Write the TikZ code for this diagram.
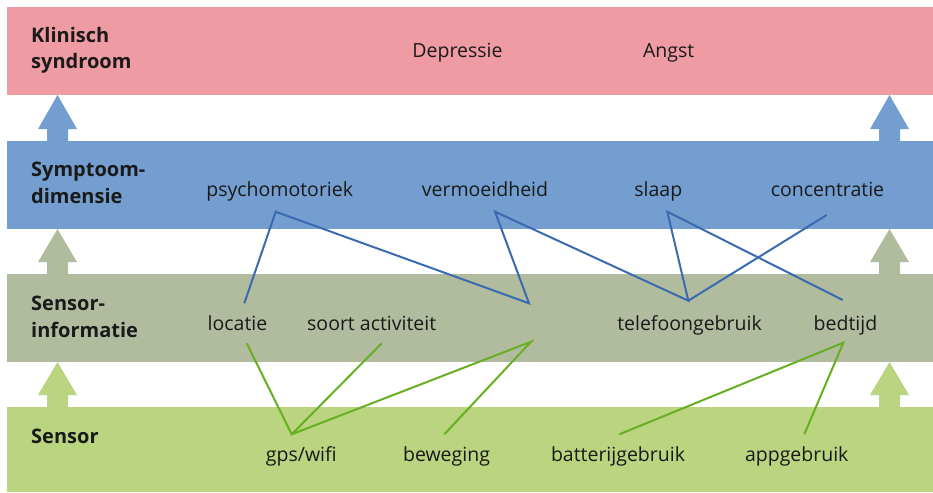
\documentclass[tikz,border=0pt]{standalone}
\usepackage{fontspec}
\setmainfont{Open Sans}
\usetikzlibrary{calc}
\definecolor{pinkband}{HTML}{EF9BA3}
\definecolor{blueband}{HTML}{739ECF}
\definecolor{greyband}{HTML}{B1BC9F}
\definecolor{greenband}{HTML}{BAD480}
\definecolor{blueline}{HTML}{3A6AB0}
\definecolor{greenline}{HTML}{67AF22}
\definecolor{txt}{HTML}{1A1A1A}
\begin{document}
\begin{tikzpicture}[x=1pt,y=-1pt,
  band/.style={draw=none,inner sep=0pt,outer sep=0pt,anchor=north west,minimum width=926pt},
  lbl/.style={anchor=base,inner sep=0pt,font=\fontsize{19.5}{23}\selectfont,text=txt},
  head/.style={anchor=base west,inner sep=0pt,font=\fontsize{20}{24}\selectfont\bfseries,text=txt},
  bl/.style={draw=blueline,line width=2pt},
  gl/.style={draw=greenline,line width=2pt}]
\useasboundingbox (0,0) rectangle (933,492);
% bands
\node[band,fill=pinkband,minimum height=88pt] (b1) at (7,7) {};
\node[band,fill=blueband,minimum height=88pt] (b2) at (7,141) {};
\node[band,fill=greyband,minimum height=88pt] (b3) at (7,274) {};
\node[band,fill=greenband,minimum height=85pt] (b4) at (7,407) {};
% arrows (left and right)
\foreach \cx in {57.5,889.5}{
  \fill[blueband] (\cx,95) -- (\cx+19.5,129) -- (\cx+10.5,129) -- (\cx+10.5,141.5) -- (\cx-10.5,141.5) -- (\cx-10.5,129) -- (\cx-19.5,129) -- cycle;
  \fill[greyband] (\cx,229) -- (\cx+19.5,262) -- (\cx+10.5,262) -- (\cx+10.5,274.5) -- (\cx-10.5,274.5) -- (\cx-10.5,262) -- (\cx-19.5,262) -- cycle;
  \fill[greenband] (\cx,362) -- (\cx+19.5,395) -- (\cx+10.5,395) -- (\cx+10.5,407.5) -- (\cx-10.5,407.5) -- (\cx-10.5,395) -- (\cx-19.5,395) -- cycle;
}
% level headings
\node[head] (h1a) at (31,42.3) {Klinisch};
\node[head] (h1b) at (31,69) {syndroom};
\node[head] (h2a) at (31,176.5) {Symptoom-};
\node[head] (h2b) at (31,203) {dimensie};
\node[head] (h3a) at (31,310.3) {Sensor-};
\node[head] (h3b) at (31,337) {informatie};
\node[head] (h4) at (31,443.3) {Sensor};
% syndromes
\node[lbl] (dep) at (457.5,57.7) {Depressie};
\node[lbl] (ang) at (668.7,57.7) {Angst};
% symptom dimensions
\node[lbl] (psy) at (279.7,196.7) {psychomotoriek};
\node[lbl] (verm) at (485,196.7) {vermoeidheid};
\node[lbl] (slaap) at (658.3,196.7) {slaap};
\node[lbl] (conc) at (827.5,196.7) {concentratie};
% sensor information
\node[lbl] (loc) at (237.5,330.7) {locatie};
\node[lbl] (sa) at (371.7,330.7) {soort activiteit};
\node[lbl] (tel) at (689.5,330.7) {telefoongebruik};
\node[lbl] (bed) at (845.5,330.7) {bedtijd};
% sensors
\node[lbl] (gps) at (301.3,461.7) {gps/wifi};
\node[lbl] (bew) at (446.5,461.7) {beweging};
\node[lbl] (bat) at (618,461.7) {batterijgebruik};
\node[lbl] (app) at (796.7,461.7) {appgebruik};
% connection points
\coordinate (psy-b) at ($(psy.base)+(-4,15)$);
\coordinate (verm-b) at ($(verm.base)+(10,15)$);
\coordinate (slaap-b) at ($(slaap.base)+(9,15)$);
\coordinate (conc-b) at ($(conc.base)+(-0.8,18.3)$);
\coordinate (loc-t) at ($(loc.base)+(6.8,-27.4)$);
\coordinate (loc-b) at ($(loc.base)+(9.2,12.6)$);
\coordinate (sa-b) at ($(sa.base)+(10,12.6)$);
\coordinate (tel-t) at ($(tel.base)+(-1.2,-30)$);
\coordinate (bed-t) at ($(bed.base)+(-2.8,-30.7)$);
\coordinate (bed-b) at ($(bed.base)+(-2.2,12)$);
\coordinate (hid-t) at (529,303.3);
\coordinate (hid-b) at (531,341.7);
\coordinate (gps-t) at ($(gps.base)+(-9.6,-27.4)$);
\coordinate (bew-t) at ($(bew.base)+(-2.2,-27.4)$);
\coordinate (bat-t) at ($(bat.base)+(1.3,-27.4)$);
\coordinate (app-t) at ($(app.base)+(7.6,-27.4)$);
% blue connectors
\draw[bl] (loc-t) -- (psy-b) -- (hid-t) -- (verm-b) -- (tel-t) -- (slaap-b) -- (bed-t);
\draw[bl] (conc-b) -- (tel-t);
% green connectors
\draw[gl] (loc-b) -- (gps-t) -- (sa-b);
\draw[gl] (gps-t) -- (hid-b) -- (bew-t);
\draw[gl] (bat-t) -- (bed-b) -- (app-t);
\end{tikzpicture}
\end{document}
